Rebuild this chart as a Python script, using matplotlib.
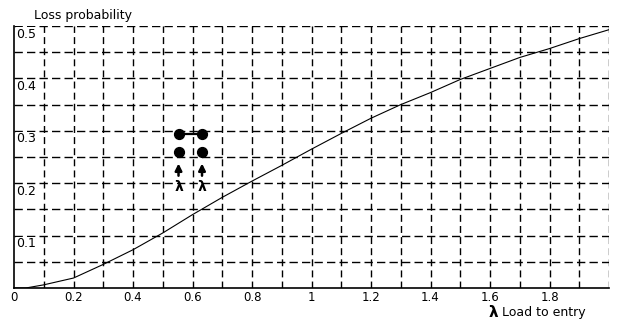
import numpy as np
import matplotlib
matplotlib.use("Agg")
import matplotlib.pyplot as plt

# curve
load = [0, 0.04, 0.1, 0.2, 0.3, 0.4, 0.5, 0.6, 0.7, 0.8, 0.9, 1.0, 1.1, 1.2, 1.3, 1.4, 1.5, 1.6, 1.7, 1.8, 1.9, 2.0]
loss = [0, 0.0, 0.006, 0.019, 0.045, 0.073, 0.105, 0.14, 0.173, 0.204, 0.234, 0.265, 0.295, 0.324, 0.35, 0.373, 0.398, 0.419, 0.44, 0.457, 0.476, 0.493]

xtick_vals = [0, 0.2, 0.4, 0.6, 0.8, 1, 1.2, 1.4, 1.6, 1.8]
xtick_labels = ["0", "0.2", "0.4", "0.6", "0.8", "1", "1.2", "1.4", "1.6", "1.8"]
ytick_vals = [0.1, 0.2, 0.3, 0.4, 0.5]
ytick_labels = ["0.1", "0.2", "0.3", "0.4", "0.5"]

# little network sketch: two nodes joined, two nodes with arrival arrows
node_x = [0.553, 0.632]
node_y_top = 0.294
node_y_low = 0.259

fig = plt.figure(figsize=(6.25, 3.23), dpi=100)
ax = fig.add_axes([0.0224, 0.1084, 0.952, 0.811])
ax.set_xlim(0, 2.0)
ax.set_ylim(0, 0.5)

# dashed grid, drawn by hand so the border lines at 0.5 and 2.0 are dashed too
for gx in np.arange(0.1, 2.01, 0.1):
    ax.axvline(gx, color="black", lw=1.0, ls=(0, (5, 3)), zorder=1)
for gy in np.arange(0.05, 0.501, 0.05):
    ax.axhline(gy, color="black", lw=1.0, ls=(0, (6, 3)), zorder=1)

ax.plot(load, loss, color="black", lw=0.8, zorder=3)

for s in ["top", "right"]:
    ax.spines[s].set_visible(False)
ax.spines["left"].set_linewidth(1.2)
ax.spines["bottom"].set_linewidth(1.2)

ax.set_xticks(xtick_vals)
ax.set_xticklabels(xtick_labels, fontsize=8.5)
ax.tick_params(axis="x", length=0, pad=2)
ax.set_yticks([])
for v, lab in zip(ytick_vals, ytick_labels):
    ax.text(0.006, v - 0.003, lab, fontsize=9, ha="left", va="top", zorder=4,
            bbox=dict(facecolor="white", edgecolor="none", pad=0.2))

# network sketch
ax.plot(node_x, [node_y_top, node_y_top], color="black", lw=1.6, zorder=5)
ax.scatter(node_x, [node_y_top] * 2, s=50, color="black", zorder=6)
ax.scatter(node_x, [node_y_low] * 2, s=50, color="black", zorder=6)
for nx in node_x:
    ax.annotate("", xy=(nx, 0.243), xytext=(nx, 0.209),
                arrowprops=dict(arrowstyle="-|>", color="black", lw=1.8, mutation_scale=10), zorder=6)
    ax.text(nx, 0.192, "λ", fontsize=10, fontweight="bold", ha="center", va="center", zorder=6)

fig.text(0.054, 0.952, "Loss probability", fontsize=9, ha="left", va="center")
fig.text(0.782, 0.034, "λ", fontsize=11, fontweight="bold", ha="left", va="center")
fig.text(0.803, 0.034, "Load to entry", fontsize=9, ha="left", va="center")

fig.savefig("out.png", dpi=100, facecolor="white")
